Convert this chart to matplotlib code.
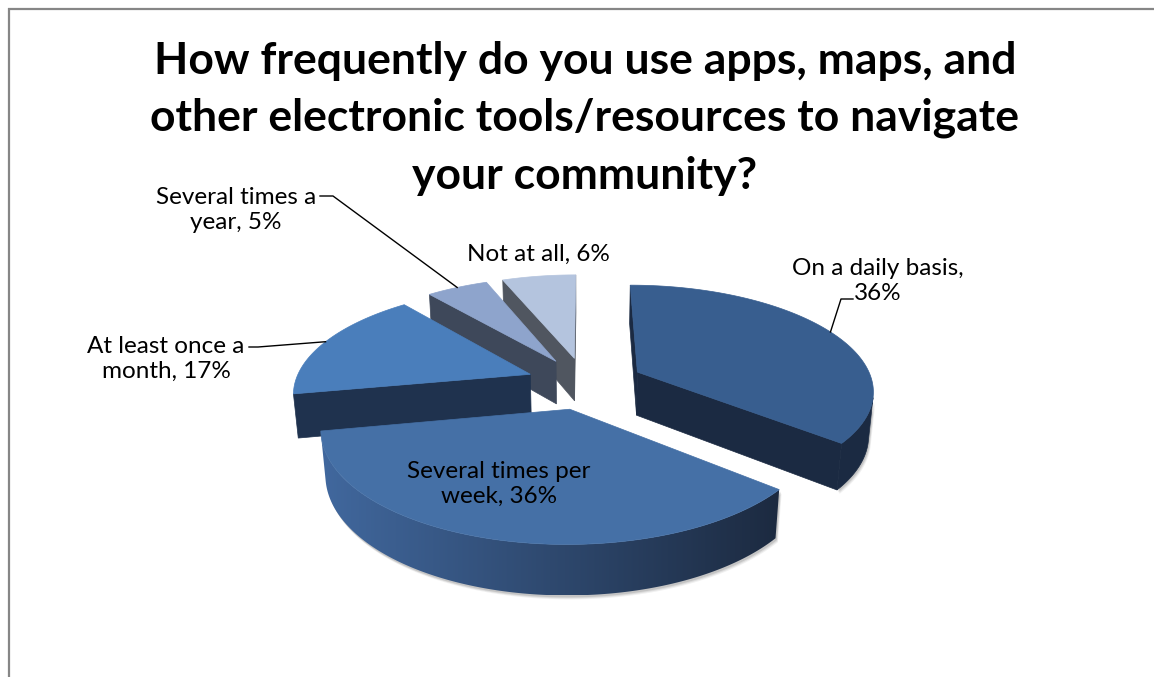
import numpy as np
import matplotlib
matplotlib.use("Agg")
import matplotlib.pyplot as plt
from matplotlib.patches import Polygon

# ── Survey data ────────────────────────────────────────────────────────────────
CATEGORIES = ["On a daily basis", "Several times per\nweek", "At least once a\nmonth",
              "Several times a\nyear", "Not at all"]
SHARES = [36, 36, 17, 5, 6]
LABEL_SEP = ["\n", " ", " ", " ", " "]

TITLE_LINES = ["How frequently do you use apps, maps, and",
               "other electronic tools/resources to navigate",
               "your community?"]

TOP_COLORS = ["#385E8F", "#4570A6", "#4A7EBB", "#8EA4CC", "#B4C4DE"]
WALL_COLORS = [("#1B2A42", "#1B2A42"), ("#41689E", "#1C2A40"),
               ("#1F324E", "#1F324E"), ("#3E485A", "#3E485A"),
               ("#505660", "#505660")]

# ── Canvas / camera ────────────────────────────────────────────────────────────
W, H, DPI = 1154, 677, 100
CX, CY = 585, 383          # screen position of the pie centre (px)
FOCAL = 1319
CAM_D = 5.6                # camera distance in pie radii
ELEV = np.arcsin(0.442)    # camera elevation
THICK = 0.21               # pie thickness in radii
EXPLODE = 0.25

SE, CE = np.sin(ELEV), np.cos(ELEV)
CAM = np.array([0.0, -CAM_D * CE, CAM_D * SE])


def project(x, y, z):
    x, y, z = np.asarray(x, float), np.asarray(y, float), np.asarray(z, float)
    depth = CAM_D + y * CE - z * SE
    up = y * SE + z * CE
    return CX + FOCAL * x / depth, CY - FOCAL * up / depth


def facing(normal, point):
    return np.dot(normal, np.asarray(point) - CAM) < 0


def poly2d(pts3):
    xs, ys = project(*np.array(pts3, float).T)
    return np.column_stack([xs, ys])


def fill_face(ax, verts, c_left, c_right):
    """Fill a face; a left-to-right gradient when the two colours differ."""
    if c_left == c_right:
        ax.add_patch(Polygon(verts, closed=True, facecolor=c_left, edgecolor=c_left,
                             linewidth=0.5))
        return
    patch = Polygon(verts, closed=True, facecolor="none", edgecolor="none")
    ax.add_patch(patch)
    x0, x1 = verts[:, 0].min(), verts[:, 0].max()
    y0, y1 = verts[:, 1].min(), verts[:, 1].max()
    cmap = matplotlib.colors.LinearSegmentedColormap.from_list("wall", [c_left, c_right])
    grad = np.linspace(0, 1, 256)[None, :]
    im = ax.imshow(grad, cmap=cmap, extent=(x0, x1, y1, y0), aspect="auto",
                   interpolation="bilinear", zorder=patch.get_zorder())
    im.set_clip_path(patch)


def draw_slice(ax, a0, a1, top_col, wall_cols):
    mid = 0.5 * (a0 + a1)
    ox, oy = EXPLODE * np.sin(mid), EXPLODE * np.cos(mid)

    # flat radial faces at both ends of the slice
    for ang, sgn in ((a0, -1.0), (a1, 1.0)):
        n = np.array([sgn * np.cos(ang), -sgn * np.sin(ang), 0.0])
        ex, ey = ox + np.sin(ang), oy + np.cos(ang)
        centre = ((ox + ex) / 2, (oy + ey) / 2, -THICK / 2)
        if facing(n, centre):
            pts = [(ox, oy, 0), (ex, ey, 0), (ex, ey, -THICK), (ox, oy, -THICK)]
            fill_face(ax, poly2d(pts), wall_cols[1], wall_cols[1])

    # curved outer wall: keep the part that faces the camera
    th = np.linspace(a0, a1, 240)
    vis = np.array([facing(np.array([np.sin(t), np.cos(t), 0.0]),
                           (ox + np.sin(t), oy + np.cos(t), -THICK / 2)) for t in th])
    if vis.sum() > 1:
        tv = th[vis]
        rx, ry = ox + np.sin(tv), oy + np.cos(tv)
        tx, ty = project(rx, ry, np.zeros_like(tv))
        bx, by = project(rx, ry, np.full_like(tv, -THICK))
        verts = np.column_stack([np.r_[tx, bx[::-1]], np.r_[ty, by[::-1]]])
        fill_face(ax, verts, wall_cols[0], wall_cols[1])
        # soft drop shadow along the bottom rim
        for k, a in ((4, 0.10), (3, 0.15), (2, 0.22)):
            ax.add_patch(Polygon(verts + np.array([k * 0.6, k]), closed=True,
                                 facecolor="#707070", edgecolor="none", alpha=a,
                                 zorder=0.5))

    # top face
    tx, ty = project(ox + np.sin(th), oy + np.cos(th), np.zeros_like(th))
    cx0, cy0 = project(ox, oy, 0)
    top = np.column_stack([np.r_[cx0, tx], np.r_[cy0, ty]])
    ax.add_patch(Polygon(top, closed=True, facecolor=top_col, edgecolor=top_col,
                         linewidth=0.5))

    # anchor on the rim at the mid-angle, for leader lines
    return project(ox + np.sin(mid), oy + np.cos(mid), 0.0)


fig = plt.figure(figsize=(W / DPI, H / DPI), dpi=DPI)
ax = fig.add_axes([0, 0, 1, 1])
ax.set_xlim(0, W)
ax.set_ylim(H, 0)
ax.axis("off")

# chart frame (only top and left edges fall inside the image)
ax.plot([8, W], [9, 9], color="#868686", lw=1.6, solid_capstyle="butt")
ax.plot([9, 9], [8, H], color="#868686", lw=1.6, solid_capstyle="butt")

total = float(sum(SHARES))
bounds = np.r_[0, np.cumsum(SHARES)] / total * 2 * np.pi
offsets_y = [np.cos(0.5 * (bounds[i] + bounds[i + 1])) for i in range(len(SHARES))]
order = np.argsort(offsets_y)[::-1]  # back slices first

anchors = {}
for i in order:
    anchors[i] = draw_slice(ax, bounds[i], bounds[i + 1], TOP_COLORS[i], WALL_COLORS[i])

ax.set_xlim(0, W)
ax.set_ylim(H, 0)

# ── Text ───────────────────────────────────────────────────────────────────────
FONT = "Lato"
for line, base in zip(TITLE_LINES, [74, 131, 189]):
    ax.text(585, base, line, ha="center", va="baseline", fontsize=32,
            fontweight="bold", family=FONT, color="black")

labels = [f"{c},{s}{v}%" for c, s, v in zip(CATEGORIES, LABEL_SEP, SHARES)]
# (x centre, baseline of the last line)
label_pos = [(878, 300), (499, 503), (166, 378), (236, 229), (538, 261)]
for i, (lx, ly) in enumerate(label_pos):
    ax.text(lx, ly, labels[i], ha="center", va="baseline", fontsize=17.5, family=FONT,
            linespacing=1.22, color="black")

# leader lines: short elbow beside the text, then to the slice rim
leader_elbows = {0: [(853, 299), (841, 299)],
                 2: [(249, 347), (258, 347)],
                 3: [(320, 196), (333, 196)]}
for i, pts in leader_elbows.items():
    axp, ayp = anchors[i]
    xs = [p[0] for p in pts] + [float(axp)]
    ys = [p[1] for p in pts] + [float(ayp)]
    ax.plot(xs, ys, color="black", lw=1.0)

fig.savefig("out.png", dpi=DPI)
